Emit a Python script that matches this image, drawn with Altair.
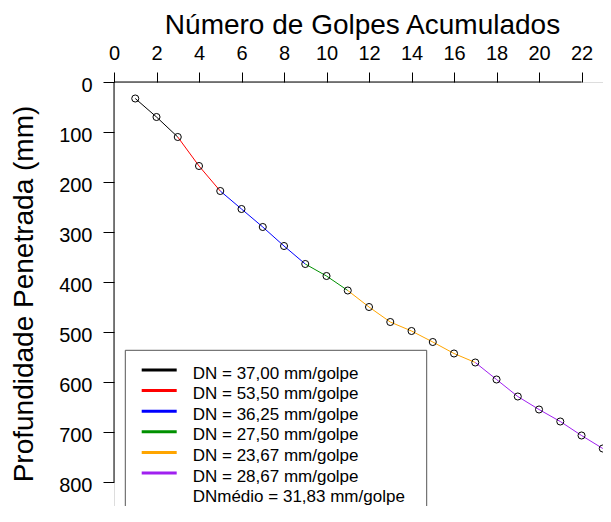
import altair as alt
import pandas as pd

# ---- data ----
golpes = list(range(1, 24))
profundidade = [33, 70, 110, 168, 218, 254, 290, 328, 364, 388, 417, 450,
                480, 498, 520, 543, 561, 595, 629, 655, 679, 707, 733]
seg_inicio = [1, 3, 5, 9, 11, 17]
seg_fim = [3, 5, 9, 11, 17, 23]
seg_labels = ["DN = 37,00 mm/golpe", "DN = 53,50 mm/golpe", "DN = 36,25 mm/golpe",
              "DN = 27,50 mm/golpe", "DN = 23,67 mm/golpe", "DN = 28,67 mm/golpe"]
seg_colors = ["#000000", "#FF0000", "#0000FF", "#009000", "#FFA500", "#A020F0"]
media_label = "DNmédio = 31,83 mm/golpe"
x_ticks = list(range(0, 23, 2))
y_ticks = list(range(0, 801, 100))

FONT = "Liberation Sans"

pts = pd.DataFrame({"golpes": golpes, "prof": profundidade})

rows = []
for i, (a, b) in enumerate(zip(seg_inicio, seg_fim)):
    for g, p in zip(golpes, profundidade):
        if a <= g <= b:
            rows.append({"golpes": g, "prof": p, "seg": seg_labels[i]})
lines_df = pd.DataFrame(rows)

xscale = alt.Scale(domain=[0, 23.01], nice=False, zero=False)
yscale = alt.Scale(domain=[0, 848], nice=False, reverse=True)

x_axis = alt.Axis(orient="top", values=x_ticks, title="Número de Golpes Acumulados",
                  domain=False, grid=False, tickSize=10, tickColor="black",
                  labelFontSize=20, labelFont=FONT, labelColor="black",
                  labelBaseline="alphabetic", labelPadding=12.5, labelFlush=False,
                  titleFontSize=28, titleFont=FONT, titleFontWeight="normal", titleColor="black",
                  titleX=248, titleY=-48.4, titleAlign="center", titleBaseline="alphabetic",
                  titleAnchor="middle")
y_axis = alt.Axis(values=y_ticks, title="Profundidade Penetrada (mm)",
                  domain=False, grid=False, tickSize=11, tickColor="black",
                  labelFontSize=20, labelFont=FONT, labelColor="black",
                  labelBaseline="middle", labelPadding=11, labelOffset=3, labelFlush=False,
                  titleFontSize=28, titleFont=FONT, titleFontWeight="normal", titleColor="black",
                  titleAngle=270, titleX=-81.5, titleY=211.5, titleAlign="center",
                  titleBaseline="alphabetic")

# axis lines spanning first..last tick (as in the reference); this layer carries the axes
axis_lines = pd.DataFrame({
    "golpes": [x_ticks[0], x_ticks[0]], "golpes2": [x_ticks[-1], x_ticks[0]],
    "prof": [y_ticks[0], y_ticks[0]], "prof2": [y_ticks[0], y_ticks[-1]],
})
domain_rules = alt.Chart(axis_lines).mark_rule(color="black", strokeWidth=1).encode(
    x=alt.X("golpes:Q", scale=xscale, axis=x_axis), x2="golpes2:Q",
    y=alt.Y("prof:Q", scale=yscale, axis=y_axis), y2="prof2:Q",
)

lines = alt.Chart(lines_df).mark_line(strokeWidth=1).encode(
    x=alt.X("golpes:Q"),
    y=alt.Y("prof:Q"),
    color=alt.Color("seg:N", scale=alt.Scale(domain=seg_labels, range=seg_colors), legend=None),
    detail="seg:N",
    order="golpes:Q",
)

points = alt.Chart(pts).mark_point(shape="circle", filled=False, color="black",
                                   size=50, strokeWidth=1, opacity=1).encode(
    x=alt.X("golpes:Q"),
    y=alt.Y("prof:Q"),
)

# legend box
legend_box = alt.Chart(pd.DataFrame({"a": [0]})).mark_rect(
    fill="white", stroke="#555555", strokeWidth=1).encode(
    x=alt.value(11.3), x2=alt.value(312.7), y=alt.value(268.3), y2=alt.value(520),
)

leg_df = pd.DataFrame({
    "label": seg_labels + [media_label],
    "color": seg_colors + ["transparent"],
    "row": list(range(len(seg_labels) + 1)),
})

leg_lines = alt.Chart(leg_df).transform_filter("datum.row < 6").transform_calculate(
    py="288 + datum.row * 20.6"
).mark_rule(strokeWidth=3).encode(
    x=alt.value(27.7), x2=alt.value(62.7),
    y=alt.Y("py:Q", scale=None),
    color=alt.Color("color:N", scale=None, legend=None),
)

leg_text = alt.Chart(leg_df).transform_calculate(
    py="288 + 8.5 + datum.row * 20.6"
).mark_text(align="left", baseline="alphabetic", fontSize=17, font=FONT, color="black").encode(
    x=alt.value(78.7),
    y=alt.Y("py:Q", scale=None),
    text="label:N",
)

chart = alt.layer(domain_rules, lines, points, legend_box, leg_lines, leg_text).properties(
    width=489, height=424,
    padding={"left": 106, "top": 74, "right": 0, "bottom": 0},
    autosize=alt.AutoSizeParams(type="none"),
).configure_view(stroke=None).configure(background="white")

chart.save("out.html", embed_options={"renderer": "svg", "actions": False})
